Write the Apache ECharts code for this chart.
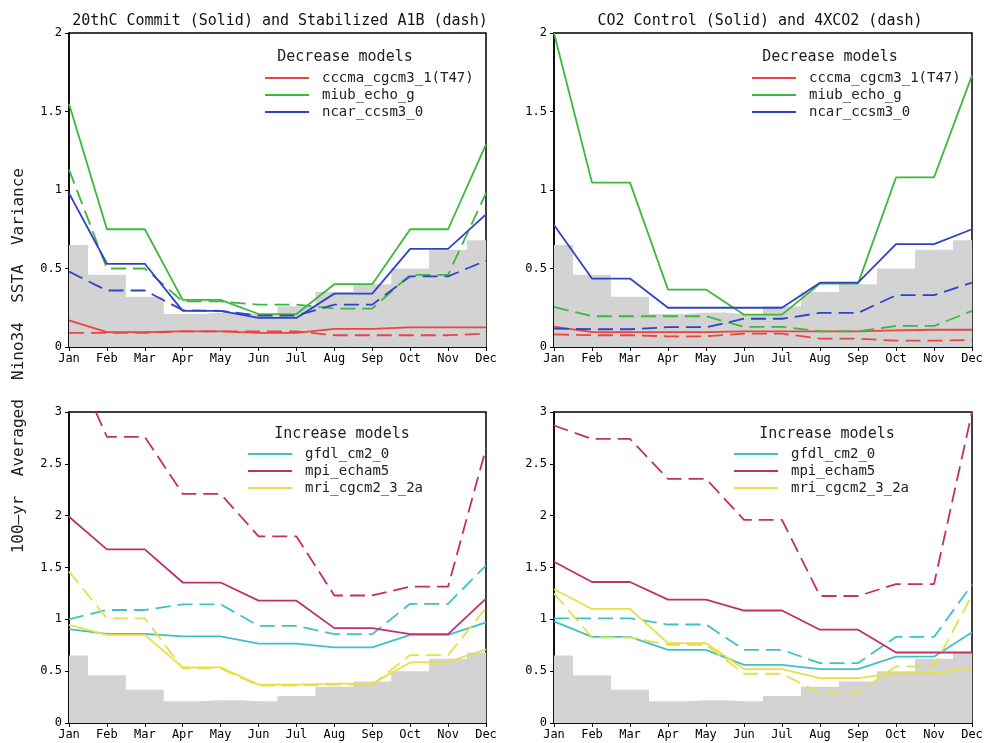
<!DOCTYPE html>
<html>
<head>
<meta charset="utf-8">
<script src="https://cdn.jsdelivr.net/npm/echarts@6/dist/echarts.min.js"></script>
<style>html,body{margin:0;padding:0;background:#fff}#c{width:987px;height:743px}</style>
</head>
<body>
<div id="c"></div>
<script>
// ---- data ----
var months = ['Jan','Feb','Mar','Apr','May','Jun','Jul','Aug','Sep','Oct','Nov','Dec'];
var observed = [0.65,0.46,0.32,0.21,0.22,0.21,0.26,0.35,0.40,0.50,0.62,0.68];

// Panel A: 20thC Commit (solid) / Stabilized A1B (dash)
var a_cccma_solid = [0.17,0.095,0.095,0.10,0.10,0.09,0.09,0.115,0.115,0.125,0.125,0.125];
var a_cccma_dash  = [0.09,0.09,0.09,0.10,0.10,0.10,0.10,0.075,0.075,0.075,0.075,0.085];
var a_miub_solid  = [1.55,0.75,0.75,0.30,0.30,0.21,0.21,0.40,0.40,0.75,0.75,1.29];
var a_miub_dash   = [1.13,0.50,0.50,0.29,0.29,0.27,0.27,0.245,0.245,0.46,0.46,0.98];
var a_ncar_solid  = [0.98,0.53,0.53,0.23,0.23,0.185,0.185,0.34,0.34,0.625,0.625,0.845];
var a_ncar_dash   = [0.48,0.36,0.36,0.235,0.23,0.20,0.20,0.27,0.27,0.45,0.45,0.55];

// Panel B: CO2 Control (solid) / 4XCO2 (dash)
var b_cccma_solid = [0.13,0.095,0.095,0.095,0.095,0.10,0.10,0.10,0.10,0.106,0.11,0.11];
var b_cccma_dash  = [0.08,0.075,0.075,0.068,0.068,0.085,0.085,0.053,0.053,0.04,0.04,0.045];
var b_miub_solid  = [2.0,1.047,1.047,0.366,0.366,0.206,0.206,0.404,0.404,1.08,1.08,1.73];
var b_miub_dash   = [0.255,0.196,0.196,0.196,0.196,0.128,0.128,0.10,0.10,0.134,0.134,0.23];
var b_ncar_solid  = [0.777,0.436,0.436,0.25,0.25,0.25,0.25,0.41,0.41,0.655,0.655,0.75];
var b_ncar_dash   = [0.117,0.113,0.113,0.126,0.126,0.18,0.18,0.217,0.217,0.33,0.33,0.41];

// Panel C: 20thC Commit (solid) / Stabilized A1B (dash), increase models
var c_gfdl_solid = [0.905,0.86,0.86,0.835,0.835,0.765,0.765,0.73,0.73,0.85,0.85,0.97];
var c_gfdl_dash  = [1.0,1.09,1.09,1.145,1.145,0.937,0.937,0.857,0.857,1.15,1.15,1.52];
var c_mpi_solid  = [1.99,1.675,1.675,1.355,1.355,1.18,1.18,0.915,0.915,0.857,0.857,1.20];
var c_mpi_dash   = [3.58,2.76,2.76,2.21,2.21,1.80,1.80,1.23,1.23,1.315,1.315,2.65];
var c_mri_solid  = [0.946,0.85,0.85,0.536,0.536,0.37,0.37,0.38,0.38,0.584,0.59,0.71];
var c_mri_dash   = [1.46,1.01,1.01,0.526,0.526,0.36,0.36,0.37,0.37,0.655,0.655,1.11];

// Panel D: CO2 Control (solid) / 4XCO2 (dash), increase models
var d_gfdl_solid = [0.98,0.83,0.83,0.706,0.706,0.56,0.56,0.52,0.52,0.64,0.64,0.875];
var d_gfdl_dash  = [1.01,1.01,1.01,0.95,0.95,0.706,0.706,0.577,0.577,0.83,0.83,1.335];
var d_mpi_solid  = [1.556,1.36,1.36,1.19,1.19,1.085,1.085,0.90,0.90,0.68,0.68,0.68];
var d_mpi_dash   = [2.87,2.74,2.74,2.355,2.355,1.96,1.96,1.225,1.225,1.34,1.34,3.0];
var d_mri_solid  = [1.29,1.10,1.10,0.77,0.77,0.52,0.52,0.433,0.433,0.48,0.48,0.53];
var d_mri_dash   = [1.25,0.825,0.825,0.754,0.754,0.475,0.475,0.29,0.29,0.545,0.545,1.235];

var titles = ['20thC Commit (Solid) and Stabilized A1B (dash)', 'CO2 Control (Solid) and 4XCO2 (dash)'];
var yLabel = '100\u2013yr  Averaged  Nino34  SSTA  Variance';

// ---- styling ----
var FONT = 'DejaVu Sans Mono';
var C = {cccma:'#e8463f', miub:'#3cb83c', ncar:'#3242c8', gfdl:'#3fc2c6', mpi:'#c02f6e', mri:'#e6e046'};
var grids = [
  {left:69, top:33, width:417, height:314},
  {left:554, top:33, width:418, height:314},
  {left:69, top:412, width:417, height:311},
  {left:554, top:412, width:418, height:311}
];

var xAxes = [], yAxes = [], series = [];
grids.forEach(function(g, i){
  xAxes.push({
    gridIndex:i, type:'category', data:months, boundaryGap:false,
    axisLine:{lineStyle:{color:'#000', width:1.5}},
    axisTick:{alignWithLabel:true, length:4, lineStyle:{color:'#000'}},
    axisLabel:{color:'#000', fontSize:12, fontFamily:FONT, margin:6, interval:0},
    splitLine:{show:false}
  });
  yAxes.push({
    gridIndex:i, type:'value', min:0, max:(i<2?2:3), interval:0.5,
    axisLine:{show:true, lineStyle:{color:'#000', width:1.5}},
    axisTick:{show:true, length:4, lineStyle:{color:'#000'}},
    axisLabel:{color:'#000', fontSize:12, fontFamily:FONT, margin:7},
    splitLine:{show:false}
  });
  series.push({
    type:'line', name:'obs'+i, xAxisIndex:i, yAxisIndex:i, data:observed,
    step:'middle', symbol:'none', lineStyle:{width:0}, silent:true,
    areaStyle:{color:'#d3d3d3', opacity:1}, z:1
  });
});

function addLine(i, name, data, color, dashed){
  series.push({
    type:'line', name:name, xAxisIndex:i, yAxisIndex:i, data:data,
    symbol:'none', clip:true, z:3,
    lineStyle:{color:color, width:1.8, type: dashed ? [15,7] : 'solid'},
    itemStyle:{color:color}
  });
}
addLine(0,'cccma_cgcm3_1(T47)',a_cccma_solid,C.cccma,false);
addLine(0,'cccma dash A',a_cccma_dash,C.cccma,true);
addLine(0,'miub_echo_g',a_miub_solid,C.miub,false);
addLine(0,'miub dash A',a_miub_dash,C.miub,true);
addLine(0,'ncar_ccsm3_0',a_ncar_solid,C.ncar,false);
addLine(0,'ncar dash A',a_ncar_dash,C.ncar,true);

addLine(1,'cccma_cgcm3_1(T47) ',b_cccma_solid,C.cccma,false);
addLine(1,'cccma dash B',b_cccma_dash,C.cccma,true);
addLine(1,'miub_echo_g ',b_miub_solid,C.miub,false);
addLine(1,'miub dash B',b_miub_dash,C.miub,true);
addLine(1,'ncar_ccsm3_0 ',b_ncar_solid,C.ncar,false);
addLine(1,'ncar dash B',b_ncar_dash,C.ncar,true);

addLine(2,'gfdl_cm2_0',c_gfdl_solid,C.gfdl,false);
addLine(2,'gfdl dash C',c_gfdl_dash,C.gfdl,true);
addLine(2,'mpi_echam5',c_mpi_solid,C.mpi,false);
addLine(2,'mpi dash C',c_mpi_dash,C.mpi,true);
addLine(2,'mri_cgcm2_3_2a',c_mri_solid,C.mri,false);
addLine(2,'mri dash C',c_mri_dash,C.mri,true);

addLine(3,'gfdl_cm2_0 ',d_gfdl_solid,C.gfdl,false);
addLine(3,'gfdl dash D',d_gfdl_dash,C.gfdl,true);
addLine(3,'mpi_echam5 ',d_mpi_solid,C.mpi,false);
addLine(3,'mpi dash D',d_mpi_dash,C.mpi,true);
addLine(3,'mri_cgcm2_3_2a ',d_mri_solid,C.mri,false);
addLine(3,'mri dash D',d_mri_dash,C.mri,true);

function legend(left, top, names){
  return {
    left:left, top:top, orient:'vertical', selectedMode:false,
    icon:'rect', itemWidth:44, itemHeight:2, itemGap:3,
    textStyle:{color:'#222', fontSize:14, lineHeight:14, fontFamily:FONT, padding:[0,0,0,8]},
    data:names.map(function(n){return {name:n};})
  };
}

var tStyle = {fontSize:15, fontWeight:'normal', color:'#111', fontFamily:FONT};
var lStyle = {fontSize:15, fontWeight:'normal', color:'#222', fontFamily:FONT};
var option = {
  animation:false,
  backgroundColor:'#fff',
  grid: grids.map(function(g){ return Object.assign({show:true, borderColor:'#000', borderWidth:1.5, backgroundColor:'transparent', containLabel:false}, g); }),
  xAxis:xAxes, yAxis:yAxes, series:series,
  title:[
    {text:titles[0], left:275, top:9, textAlign:'center', textStyle:tStyle},
    {text:titles[1], left:755, top:9, textAlign:'center', textStyle:tStyle},
    {text:'Decrease models', left:340, top:45, textAlign:'center', textStyle:lStyle},
    {text:'Decrease models', left:825, top:45, textAlign:'center', textStyle:lStyle},
    {text:'Increase models', left:337, top:422, textAlign:'center', textStyle:lStyle},
    {text:'Increase models', left:822, top:422, textAlign:'center', textStyle:lStyle}
  ],
  legend:[
    legend(260, 66, ['cccma_cgcm3_1(T47)','miub_echo_g','ncar_ccsm3_0']),
    legend(747, 66, ['cccma_cgcm3_1(T47) ','miub_echo_g ','ncar_ccsm3_0 ']),
    legend(243, 442, ['gfdl_cm2_0','mpi_echam5','mri_cgcm2_3_2a']),
    legend(729, 442, ['gfdl_cm2_0 ','mpi_echam5 ','mri_cgcm2_3_2a '])
  ],
  graphic:[
    {type:'text', left:11, top:168, rotation:Math.PI/2, style:{text:yLabel, fontSize:16, fontFamily:FONT, fill:'#222'}}
  ]
};
var chart = echarts.init(document.getElementById('c'), null, {renderer:'canvas'});
chart.setOption(option);
</script>
</body>
</html>
